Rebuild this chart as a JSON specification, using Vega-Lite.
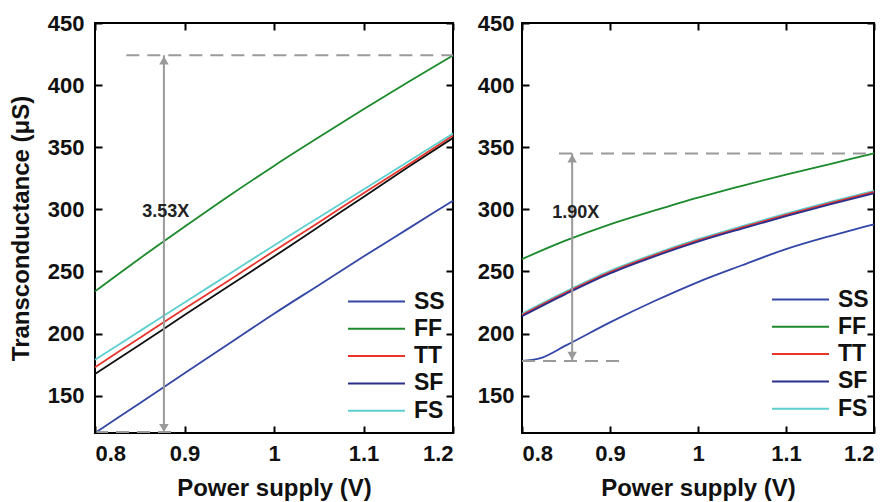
{
  "$schema": "https://vega.github.io/schema/vega-lite/v6.json",
  "padding": {"left": 8, "top": 11, "right": 5, "bottom": 2},
  "background": "white",
  "datasets": {
    "left": [
      {"v": 0.8, "g": 234, "c": "FF"}, {"v": 0.85, "g": 260.5, "c": "FF"}, {"v": 0.9, "g": 286, "c": "FF"}, {"v": 0.95, "g": 311, "c": "FF"}, {"v": 1.0, "g": 335, "c": "FF"}, {"v": 1.05, "g": 358, "c": "FF"}, {"v": 1.1, "g": 380.5, "c": "FF"}, {"v": 1.15, "g": 402.5, "c": "FF"}, {"v": 1.2, "g": 424, "c": "FF"},
      {"v": 0.8, "g": 167.5, "c": "NOM"}, {"v": 0.85, "g": 191, "c": "NOM"}, {"v": 0.9, "g": 215, "c": "NOM"}, {"v": 0.95, "g": 238.5, "c": "NOM"}, {"v": 1.0, "g": 262, "c": "NOM"}, {"v": 1.05, "g": 286, "c": "NOM"}, {"v": 1.1, "g": 310, "c": "NOM"}, {"v": 1.15, "g": 334, "c": "NOM"}, {"v": 1.2, "g": 357.5, "c": "NOM"},
      {"v": 0.8, "g": 173, "c": "TT"}, {"v": 0.85, "g": 196.5, "c": "TT"}, {"v": 0.9, "g": 220, "c": "TT"}, {"v": 0.95, "g": 243, "c": "TT"}, {"v": 1.0, "g": 266.5, "c": "TT"}, {"v": 1.05, "g": 289.5, "c": "TT"}, {"v": 1.1, "g": 313, "c": "TT"}, {"v": 1.15, "g": 336, "c": "TT"}, {"v": 1.2, "g": 359.5, "c": "TT"},
      {"v": 0.8, "g": 179, "c": "FS"}, {"v": 0.85, "g": 202, "c": "FS"}, {"v": 0.9, "g": 225, "c": "FS"}, {"v": 0.95, "g": 248, "c": "FS"}, {"v": 1.0, "g": 271, "c": "FS"}, {"v": 1.05, "g": 293.5, "c": "FS"}, {"v": 1.1, "g": 316, "c": "FS"}, {"v": 1.15, "g": 338.5, "c": "FS"}, {"v": 1.2, "g": 361, "c": "FS"},
      {"v": 0.8, "g": 120, "c": "SS"}, {"v": 0.85, "g": 144, "c": "SS"}, {"v": 0.9, "g": 168, "c": "SS"}, {"v": 0.95, "g": 192, "c": "SS"}, {"v": 1.0, "g": 216, "c": "SS"}, {"v": 1.05, "g": 239, "c": "SS"}, {"v": 1.1, "g": 262, "c": "SS"}, {"v": 1.15, "g": 284.5, "c": "SS"}, {"v": 1.2, "g": 307, "c": "SS"}
    ],
    "right": [
      {"v": 0.8, "g": 260, "c": "FF"}, {"v": 0.85, "g": 275, "c": "FF"}, {"v": 0.9, "g": 288, "c": "FF"}, {"v": 0.95, "g": 299, "c": "FF"}, {"v": 1.0, "g": 309.5, "c": "FF"}, {"v": 1.05, "g": 319, "c": "FF"}, {"v": 1.1, "g": 328, "c": "FF"}, {"v": 1.15, "g": 336.5, "c": "FF"}, {"v": 1.2, "g": 345, "c": "FF"},
      {"v": 0.8, "g": 216, "c": "FS"}, {"v": 0.85, "g": 234, "c": "FS"}, {"v": 0.9, "g": 250.5, "c": "FS"}, {"v": 0.95, "g": 264, "c": "FS"}, {"v": 1.0, "g": 276, "c": "FS"}, {"v": 1.05, "g": 286.5, "c": "FS"}, {"v": 1.1, "g": 296.5, "c": "FS"}, {"v": 1.15, "g": 306, "c": "FS"}, {"v": 1.2, "g": 315, "c": "FS"},
      {"v": 0.8, "g": 215, "c": "TT"}, {"v": 0.85, "g": 233, "c": "TT"}, {"v": 0.9, "g": 249.5, "c": "TT"}, {"v": 0.95, "g": 263, "c": "TT"}, {"v": 1.0, "g": 275, "c": "TT"}, {"v": 1.05, "g": 285.5, "c": "TT"}, {"v": 1.1, "g": 295.5, "c": "TT"}, {"v": 1.15, "g": 305, "c": "TT"}, {"v": 1.2, "g": 314, "c": "TT"},
      {"v": 0.8, "g": 214, "c": "SF"}, {"v": 0.85, "g": 232, "c": "SF"}, {"v": 0.9, "g": 248.5, "c": "SF"}, {"v": 0.95, "g": 262, "c": "SF"}, {"v": 1.0, "g": 274, "c": "SF"}, {"v": 1.05, "g": 284.5, "c": "SF"}, {"v": 1.1, "g": 294.5, "c": "SF"}, {"v": 1.15, "g": 304, "c": "SF"}, {"v": 1.2, "g": 313, "c": "SF"},
      {"v": 0.8, "g": 178, "c": "SS"}, {"v": 0.82, "g": 180, "c": "SS"}, {"v": 0.85, "g": 190.5, "c": "SS"}, {"v": 0.9, "g": 209, "c": "SS"}, {"v": 0.95, "g": 226, "c": "SS"}, {"v": 1.0, "g": 241.5, "c": "SS"}, {"v": 1.05, "g": 255, "c": "SS"}, {"v": 1.1, "g": 268, "c": "SS"}, {"v": 1.15, "g": 278.5, "c": "SS"}, {"v": 1.2, "g": 288, "c": "SS"}
    ],
    "leftDash": [{"x": 0.835, "x2": 1.2, "y": 424}, {"x": 0.8, "x2": 0.887, "y": 120.8}],
    "leftArrow": [{"x": 0.877, "y": 120, "y2": 424}],
    "leftLabel": [{"x": 0.879, "y": 298, "t": "3.53X"}],
    "rightDash": [{"x": 0.842, "x2": 1.2, "y": 345}, {"x": 0.8, "x2": 0.915, "y": 178}],
    "rightArrow": [{"x": 0.857, "y": 178, "y2": 345}],
    "rightLabel": [{"x": 0.861, "y": 297, "t": "1.90X"}]
  },
  "spacing": 18,
  "hconcat": [
    {
      "width": 358,
      "height": 410,
      "layer": [
        {
          "data": {"name": "left"},
          "mark": {"type": "line", "strokeWidth": 1.8, "interpolate": "monotone"},
          "encoding": {
            "x": {"field": "v", "type": "quantitative", "scale": {"domain": [0.8, 1.2], "nice": false, "zero": false},
                  "axis": {"orient": "bottom", "values": [0.8, 0.9, 1, 1.1, 1.2], "format": "~g", "title": "Power supply (V)", "ticks": true, "tickSize": -7, "tickColor": "#000000", "tickWidth": 2, "labelPadding": 17, "titlePadding": 12, "zindex": 1}},
            "y": {"field": "g", "type": "quantitative", "scale": {"domain": [120, 450], "nice": false, "zero": false},
                  "axis": {"orient": "left", "values": [150, 200, 250, 300, 350, 400, 450], "title": "Transconductance (μS)", "ticks": true, "tickSize": -7, "tickColor": "#000000", "tickWidth": 2, "labelPadding": 18, "titlePadding": 14, "zindex": 1}},
            "color": {"field": "c", "type": "nominal",
                      "scale": {"domain": ["SS", "FF", "TT", "SF", "FS", "NOM"], "range": ["#3447a6", "#1c8a2c", "#e8352c", "#2b2f8c", "#5dcfcf", "#111111"]},
                      "legend": {"values": ["SS", "FF", "TT", "SF", "FS"], "title": null, "orient": "none", "legendX": 270, "legendY": 267}},
            "order": {"field": "v", "type": "quantitative"}
          }
        },
        {
          "data": {"name": "leftDash"},
          "mark": {"type": "rule", "color": "#9a9a9a", "strokeWidth": 2, "strokeDash": [13, 8]},
          "encoding": {
            "x": {"field": "x", "type": "quantitative", "scale": {"domain": [0.8, 1.2], "nice": false, "zero": false},
                  "axis": {"orient": "top", "values": [0.8, 0.9, 1, 1.1, 1.2], "labels": false, "title": null, "ticks": true, "tickSize": -7, "tickColor": "#000000", "tickWidth": 2, "zindex": 1}},
            "x2": {"field": "x2"},
            "y": {"field": "y", "type": "quantitative", "scale": {"domain": [120, 450], "nice": false, "zero": false},
                  "axis": {"orient": "right", "values": [150, 200, 250, 300, 350, 400, 450], "labels": false, "title": null, "ticks": true, "tickSize": -7, "tickColor": "#000000", "tickWidth": 2, "zindex": 1}}
          }
        },
        {
          "data": {"name": "leftArrow"},
          "mark": {"type": "rule", "color": "#9a9a9a", "strokeWidth": 2},
          "encoding": {
            "x": {"field": "x", "type": "quantitative", "axis": null},
            "y": {"field": "y", "type": "quantitative", "axis": null},
            "y2": {"field": "y2"}
          }
        },
        {
          "data": {"name": "leftArrow"},
          "mark": {"type": "point", "shape": "triangle-up", "filled": true, "color": "#9a9a9a", "size": 90, "opacity": 1, "yOffset": 5},
          "encoding": {
            "x": {"field": "x", "type": "quantitative", "axis": null},
            "y": {"field": "y2", "type": "quantitative", "axis": null}
          }
        },
        {
          "data": {"name": "leftArrow"},
          "mark": {"type": "point", "shape": "triangle-down", "filled": true, "color": "#9a9a9a", "size": 90, "opacity": 1, "yOffset": -5},
          "encoding": {
            "x": {"field": "x", "type": "quantitative", "axis": null},
            "y": {"field": "y", "type": "quantitative", "axis": null}
          }
        },
        {
          "data": {"name": "leftLabel"},
          "mark": {"type": "text", "font": "Liberation Sans", "fontWeight": "bold", "fontSize": 18, "color": "#222222"},
          "encoding": {
            "x": {"field": "x", "type": "quantitative", "axis": null},
            "y": {"field": "y", "type": "quantitative", "axis": null},
            "text": {"field": "t"}
          }
        }
      ],
      "resolve": {"axis": {"x": "independent", "y": "independent"}}
    },
    {
      "width": 352,
      "height": 410,
      "layer": [
        {
          "data": {"name": "right"},
          "mark": {"type": "line", "strokeWidth": 1.8, "interpolate": "monotone"},
          "encoding": {
            "x": {"field": "v", "type": "quantitative", "scale": {"domain": [0.8, 1.2], "nice": false, "zero": false},
                  "axis": {"orient": "bottom", "values": [0.8, 0.9, 1, 1.1, 1.2], "format": "~g", "title": "Power supply (V)", "ticks": true, "tickSize": -7, "tickColor": "#000000", "tickWidth": 2, "labelPadding": 17, "titlePadding": 12, "zindex": 1}},
            "y": {"field": "g", "type": "quantitative", "scale": {"domain": [120, 450], "nice": false, "zero": false},
                  "axis": {"orient": "left", "values": [150, 200, 250, 300, 350, 400, 450], "title": null, "ticks": true, "tickSize": -7, "tickColor": "#000000", "tickWidth": 2, "labelPadding": 15, "zindex": 1}},
            "color": {"field": "c", "type": "nominal",
                      "scale": {"domain": ["SS", "FF", "TT", "SF", "FS", "NOM"], "range": ["#3447a6", "#1c8a2c", "#e8352c", "#2b2f8c", "#5dcfcf", "#111111"]},
                      "legend": {"values": ["SS", "FF", "TT", "SF", "FS"], "title": null, "orient": "none", "legendX": 267, "legendY": 265}},
            "order": {"field": "v", "type": "quantitative"}
          }
        },
        {
          "data": {"name": "rightDash"},
          "mark": {"type": "rule", "color": "#9a9a9a", "strokeWidth": 2, "strokeDash": [13, 8]},
          "encoding": {
            "x": {"field": "x", "type": "quantitative", "scale": {"domain": [0.8, 1.2], "nice": false, "zero": false},
                  "axis": {"orient": "top", "values": [0.8, 0.9, 1, 1.1, 1.2], "labels": false, "title": null, "ticks": true, "tickSize": -7, "tickColor": "#000000", "tickWidth": 2, "zindex": 1}},
            "x2": {"field": "x2"},
            "y": {"field": "y", "type": "quantitative", "scale": {"domain": [120, 450], "nice": false, "zero": false},
                  "axis": {"orient": "right", "values": [150, 200, 250, 300, 350, 400, 450], "labels": false, "title": null, "ticks": true, "tickSize": -7, "tickColor": "#000000", "tickWidth": 2, "zindex": 1}}
          }
        },
        {
          "data": {"name": "rightArrow"},
          "mark": {"type": "rule", "color": "#9a9a9a", "strokeWidth": 2},
          "encoding": {
            "x": {"field": "x", "type": "quantitative", "axis": null},
            "y": {"field": "y", "type": "quantitative", "axis": null},
            "y2": {"field": "y2"}
          }
        },
        {
          "data": {"name": "rightArrow"},
          "mark": {"type": "point", "shape": "triangle-up", "filled": true, "color": "#9a9a9a", "size": 90, "opacity": 1, "yOffset": 5},
          "encoding": {
            "x": {"field": "x", "type": "quantitative", "axis": null},
            "y": {"field": "y2", "type": "quantitative", "axis": null}
          }
        },
        {
          "data": {"name": "rightArrow"},
          "mark": {"type": "point", "shape": "triangle-down", "filled": true, "color": "#9a9a9a", "size": 90, "opacity": 1, "yOffset": -5},
          "encoding": {
            "x": {"field": "x", "type": "quantitative", "axis": null},
            "y": {"field": "y", "type": "quantitative", "axis": null}
          }
        },
        {
          "data": {"name": "rightLabel"},
          "mark": {"type": "text", "font": "Liberation Sans", "fontWeight": "bold", "fontSize": 18, "color": "#222222"},
          "encoding": {
            "x": {"field": "x", "type": "quantitative", "axis": null},
            "y": {"field": "y", "type": "quantitative", "axis": null},
            "text": {"field": "t"}
          }
        }
      ],
      "resolve": {"axis": {"x": "independent", "y": "independent"}}
    }
  ],
  "resolve": {"legend": {"color": "independent"}},
  "config": {
    "font": "Liberation Sans",
    "view": {"stroke": "#000000", "strokeWidth": 2},
    "axis": {
      "domain": false, "grid": false,
      "labelFont": "Liberation Sans", "labelFontSize": 22, "labelFontWeight": "bold", "labelColor": "#111111",
      "titleFont": "Liberation Sans", "titleFontSize": 24, "titleFontWeight": "bold", "titleColor": "#111111"
    },
    "legend": {
      "symbolType": "M-3,0H3", "symbolSize": 361, "symbolStrokeWidth": 2,
      "labelFont": "Liberation Sans", "labelFontSize": 23, "labelFontWeight": "bold", "labelColor": "#111111",
      "rowPadding": 3.3, "labelOffset": 26, "padding": 0
    }
  }
}
